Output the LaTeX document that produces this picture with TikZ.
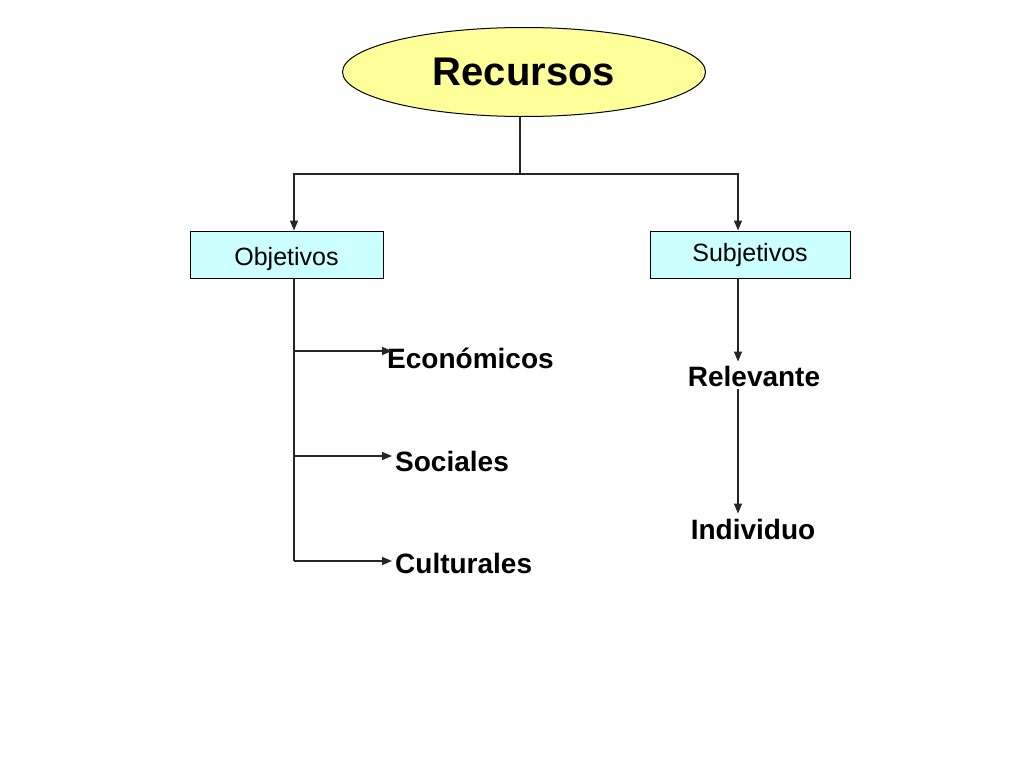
\documentclass[tikz,border=0pt]{standalone}
\usepackage{fontspec}
\setmainfont{Liberation Sans}
\usetikzlibrary{shapes.geometric,arrows.meta}
\definecolor{ellfill}{HTML}{FFFF99}
\definecolor{boxfill}{HTML}{CCFFFF}
\tikzset{
  line/.style={draw=black!85, line width=1.3pt},
  arr/.style={line, -{Triangle[length=10pt,width=8pt]}},
  topnode/.style={ellipse, draw=black, line width=1pt, fill=ellfill, minimum width=363pt, minimum height=89pt, inner sep=0pt, font=\fontsize{40}{44}\selectfont\bfseries},
  catbox/.style={rectangle, draw=black, line width=1pt, fill=boxfill, minimum width=193pt, minimum height=47pt, inner sep=0pt, font=\fontsize{25}{28}\selectfont},
  item/.style={inner sep=0pt, font=\fontsize{28}{32}\selectfont\bfseries}
}
\begin{document}
\begin{tikzpicture}[x=1pt,y=-1pt]
\useasboundingbox[fill=white] (0,0) rectangle (1024,768);
\node[topnode] (rec) at (524,72) {Recursos};
\node[catbox] (obj) at (286.5,254.5) {\raisebox{-5pt}[\height][\depth]{Objetivos}};
\node[catbox, minimum width=200pt] (subj) at (750,254.5) {\raisebox{-1pt}[\height][\depth]{Subjetivos}};
\node[item, anchor=west] (econ) at (387,358) {Económicos};
\node[item, anchor=west] (soc) at (395,461) {Sociales};
\node[item, anchor=west] (cult) at (395,563) {Culturales};
\node[item] (rel) at (754,376) {Relevante};
\node[item] (ind) at (753,529) {Individuo};
\coordinate (j) at (520,174);
\coordinate (lx) at (294,0);
\coordinate (rx) at (738,0);
\coordinate (t1) at (294,351);
\coordinate (t2) at (294,456);
\coordinate (t3) at (294,561);
\draw[line] (rec.south -| j) -- (j);
\draw[arr] (j) -| (obj.north -| lx);
\draw[arr] (j) -| (subj.north -| rx);
\draw[line] (obj.south -| lx) -- (t3);
\draw[arr] (t1) -- ([xshift=5pt]t1 -| econ.west);
\draw[arr] (t2) -- ([xshift=-3pt]t2 -| soc.west);
\draw[arr] (t3) -- ([xshift=-3pt]t3 -| cult.west);
\draw[arr] (subj.south -| rx) -- ([yshift=4pt]rel.north -| rx);
\draw[arr] ([yshift=-3pt]rel.south -| rx) -- ([yshift=5pt]ind.north -| rx);
\end{tikzpicture}
\end{document}
